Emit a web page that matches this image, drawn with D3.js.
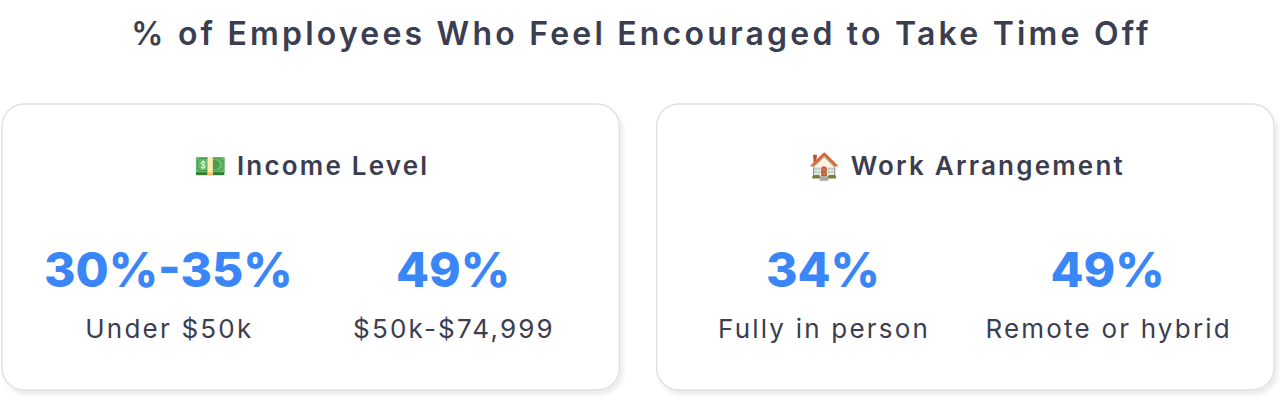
<!DOCTYPE html>
<html><head><meta charset="utf-8">
<script src="https://cdn.jsdelivr.net/npm/d3@7"></script>
<style>body{margin:0;background:#fff;font-family:Inter,"Noto Sans",sans-serif;}</style>
</head><body><div id="chart"></div>
<script>
const title = "% of Employees Who Feel Encouraged to Take Time Off";
const groups = ["💵 Income Level", "🏠 Work Arrangement"];
const values = [["30%-35%", "49%"], ["34%", "49%"]];
const labels = [["Under $50k", "$50k-$74,999"], ["Fully in person", "Remote or hybrid"]];

const W = 1280, H = 401;
const svg = d3.select("#chart").append("svg").attr("width", W).attr("height", H);

const defs = svg.append("defs");
const f = defs.append("filter").attr("id", "sh").attr("x", "-5%").attr("y", "-5%").attr("width", "110%").attr("height", "115%");
f.append("feDropShadow").attr("dx", 3).attr("dy", 4).attr("stdDeviation", 2).attr("flood-color", "#000").attr("flood-opacity", 0.08);

svg.append("text").attr("x", W / 2 + 1.5).attr("y", 45).attr("text-anchor", "middle")
  .attr("font-size", 32).attr("font-weight", 600).attr("letter-spacing", 3.2)
  .attr("fill", "#3b3d50").text(title);

const xCard = d3.scaleBand().domain(d3.range(groups.length)).range([2, 1274]).paddingInner(0.057);

const cards = svg.selectAll(".card").data(groups).join("g").attr("class", "card")
  .attr("transform", (d, i) => `translate(${xCard(i)},104)`);

cards.append("rect").attr("width", xCard.bandwidth()).attr("height", 286).attr("rx", 22)
  .attr("fill", "#fff").attr("stroke", "#dedee6").attr("stroke-width", 1.3).attr("filter", "url(#sh)");

cards.append("text").attr("x", xCard.bandwidth() / 2 + 1).attr("y", 71).attr("text-anchor", "middle")
  .attr("font-size", 26).attr("font-weight", 600).attr("letter-spacing", 2.2)
  .attr("fill", "#3b3d50").text(d => d);

const xStat = d3.scaleBand().domain([0, 1]).range([24, xCard.bandwidth() - 24]);

cards.each(function (g, i) {
  const c = d3.select(this);
  const s = c.selectAll(".stat").data(d3.range(values[i].length)).join("g").attr("class", "stat")
    .attr("transform", j => `translate(${xStat(j) + xStat.bandwidth() / 2},0)`);
  s.append("text").attr("y", 183).attr("text-anchor", "middle").attr("font-size", 48)
    .attr("font-weight", 800).attr("fill", "#3b86f7").text(j => values[i][j]);
  s.append("text").attr("x", 1).attr("y", 234).attr("text-anchor", "middle").attr("font-size", 26)
    .attr("letter-spacing", 2.2).attr("fill", "#3b3d50").text(j => labels[i][j]);
});
</script></body></html>
